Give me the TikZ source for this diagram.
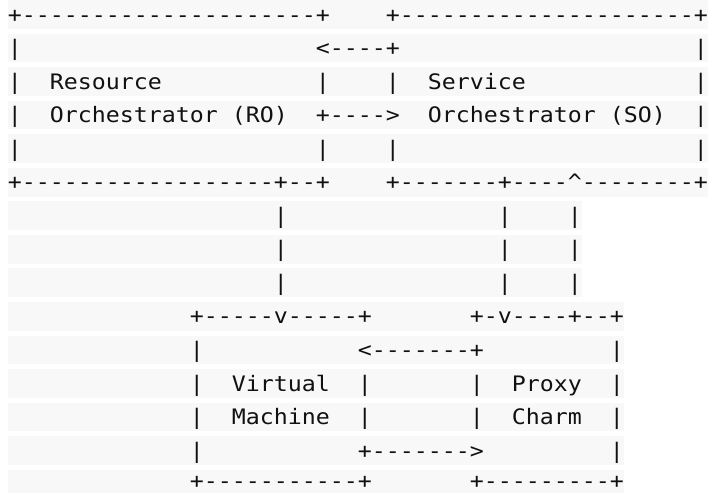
\documentclass[tikz,border=0pt]{standalone}
\usepackage{fontspec}
\newfontfamily\asciifont[FakeStretch=1.0917,Ligatures=TeXOff]{DejaVu Sans Mono}
\usepackage{xcolor}
\usepackage{tikz}
\usetikzlibrary{positioning}
\definecolor{bandgray}{HTML}{F8F8F8}
\definecolor{inkgray}{HTML}{111111}
\newlength\cw
\AtBeginDocument{\settowidth\cw{\asciifont\fontsize{21.3pt}{25pt}\selectfont -}}
\newcommand\gap[1]{\hspace*{#1\cw}}
\tikzset{
  asciirow/.style={fill=bandgray, text=inkgray, inner xsep=0pt, inner ysep=0pt, outer sep=0pt, text height=22pt, text depth=6.8pt, font=\asciifont\fontsize{21.3pt}{25pt}\selectfont},
}

\begin{document}
\begin{tikzpicture}[x=1pt, y=-1pt]
\useasboundingbox (0,0) rectangle (708,493);
\node[asciirow, anchor=north west] (row1) at (8,0) {+---------------------+\gap{4}+---------------------+};
\node[asciirow, below=4.75pt of row1.south west, anchor=north west] (row2) {|\gap{21}<----+\gap{21}|};
\node[asciirow, below=4.75pt of row2.south west, anchor=north west] (row3) {|\gap{2}Resource\gap{11}|\gap{4}|\gap{2}Service\gap{12}|};
\node[asciirow, below=4.75pt of row3.south west, anchor=north west] (row4) {|\gap{2}Orchestrator\gap{1}(RO)\gap{2}+---->\gap{2}Orchestrator\gap{1}(SO)\gap{2}|};
\node[asciirow, below=4.75pt of row4.south west, anchor=north west] (row5) {|\gap{21}|\gap{4}|\gap{21}|};
\node[asciirow, below=4.75pt of row5.south west, anchor=north west] (row6) {+------------------+--+\gap{4}+-------+----\textasciicircum--------+};
\node[asciirow, below=4.75pt of row6.south west, anchor=north west] (row7) {\gap{19}|\gap{15}|\gap{4}|};
\node[asciirow, below=4.75pt of row7.south west, anchor=north west] (row8) {\gap{19}|\gap{15}|\gap{4}|};
\node[asciirow, below=4.75pt of row8.south west, anchor=north west] (row9) {\gap{19}|\gap{15}|\gap{4}|};
\node[asciirow, below=4.75pt of row9.south west, anchor=north west] (row10) {\gap{13}+-----v-----+\gap{7}+-v----+--+};
\node[asciirow, below=4.75pt of row10.south west, anchor=north west] (row11) {\gap{13}|\gap{11}<-------+\gap{9}|};
\node[asciirow, below=4.75pt of row11.south west, anchor=north west] (row12) {\gap{13}|\gap{2}Virtual\gap{2}|\gap{7}|\gap{2}Proxy\gap{2}|};
\node[asciirow, below=4.75pt of row12.south west, anchor=north west] (row13) {\gap{13}|\gap{2}Machine\gap{2}|\gap{7}|\gap{2}Charm\gap{2}|};
\node[asciirow, below=4.75pt of row13.south west, anchor=north west] (row14) {\gap{13}|\gap{11}+------->\gap{9}|};
\node[asciirow, below=4.75pt of row14.south west, anchor=north west, text height=18.3pt, text depth=5pt] (row15) {\gap{13}+-----------+\gap{7}+---------+};
\end{tikzpicture}
\end{document}
